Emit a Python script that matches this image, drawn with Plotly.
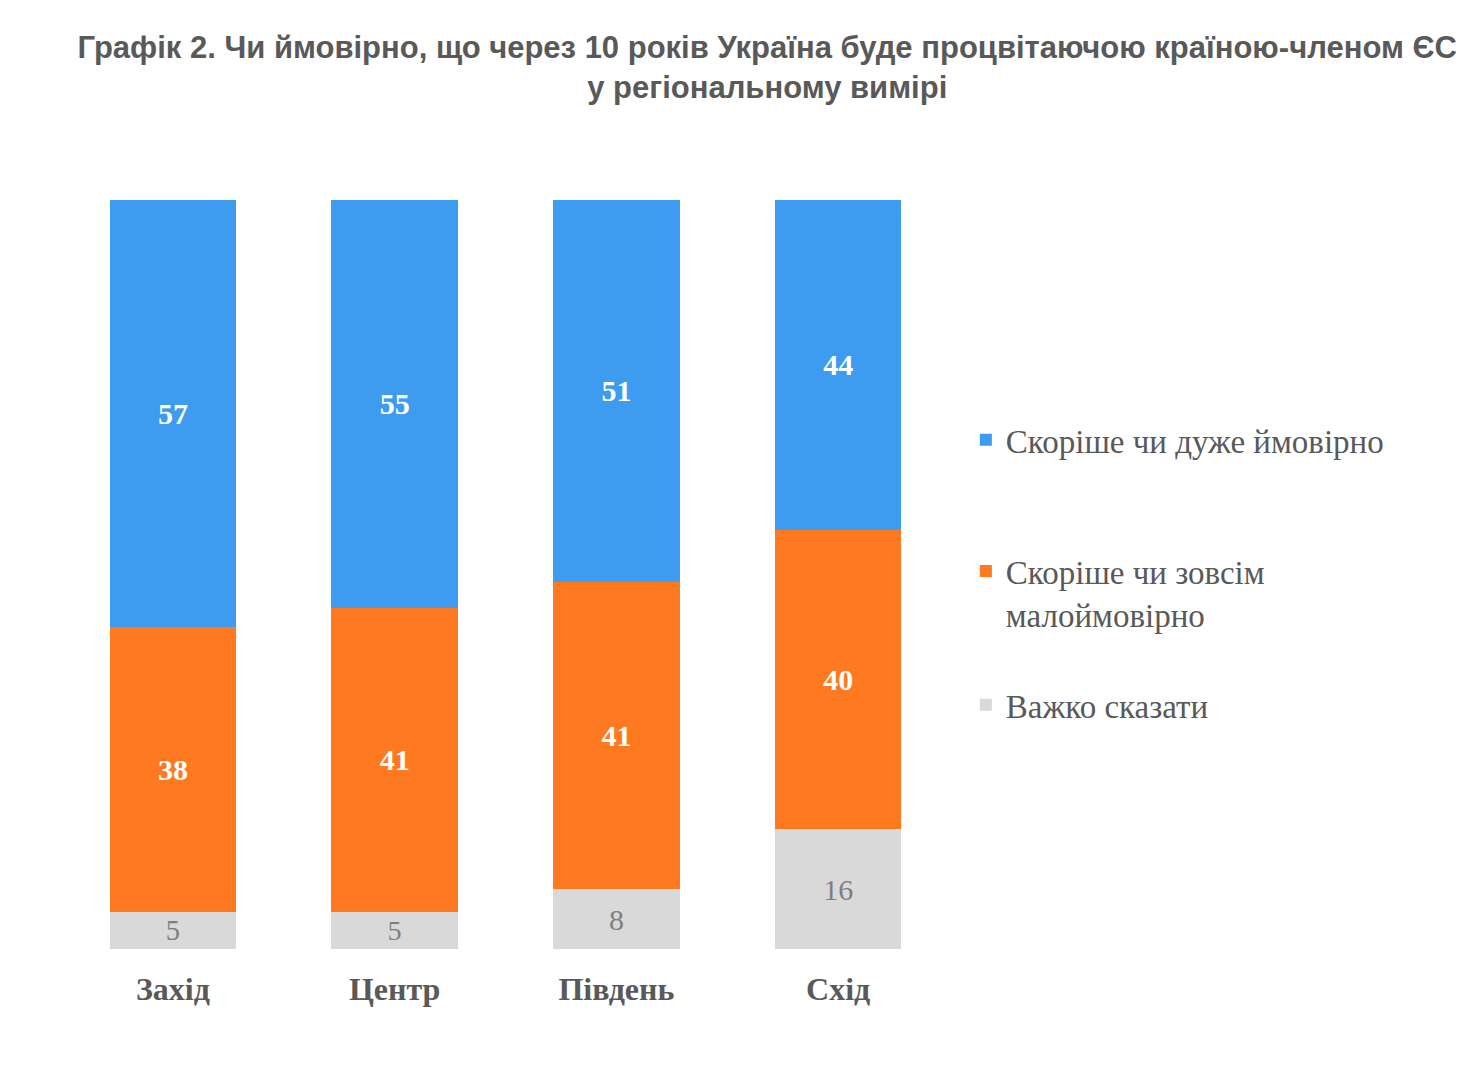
import plotly.graph_objects as go

regions = ['Захід', 'Центр', 'Південь', 'Схід']
likely = [57, 55, 51, 44]
unlikely = [38, 41, 41, 40]
hard_to_say = [5, 5, 8, 16]

series_names = ['Скоріше чи дуже ймовірно',
                'Скоріше чи зовсім<br>малоймовірно',
                'Важко сказати']

serif = 'Liberation Serif, Times New Roman, serif'
grey_text = '#595959'

fig = go.Figure()

# bottom to top: grey, orange, blue; each in its own legend box
fig.add_trace(go.Bar(
    x=regions, y=hard_to_say, name=series_names[2],
    marker_color='#d9d9d9', text=hard_to_say, texttemplate='%{text}',
    textposition='inside', insidetextanchor='middle', textangle=0,
    textfont=dict(family=serif, size=30, color='#7f7f7f'),
    legend='legend3',
))
fig.add_trace(go.Bar(
    x=regions, y=unlikely, name=series_names[1],
    marker_color='#ff7920', text=unlikely, texttemplate='<b>%{text}</b>',
    textposition='inside', insidetextanchor='middle', textangle=0,
    textfont=dict(family=serif, size=30, color='white'),
    legend='legend2',
))
fig.add_trace(go.Bar(
    x=regions, y=likely, name=series_names[0],
    marker_color='#3d9cf0', text=likely, texttemplate='<b>%{text}</b>',
    textposition='inside', insidetextanchor='middle', textangle=0,
    textfont=dict(family=serif, size=30, color='white'),
    legend='legend',
))

fig.update_traces(marker_line_width=0)

leg = dict(
    x=1.019, xanchor='left', yanchor='middle', valign='top',
    font=dict(family=serif, size=33, color=grey_text),
    bgcolor='rgba(0,0,0,0)',
)

fig.update_layout(
    width=1480, height=1066,
    barmode='stack', barnorm='percent', bargap=0.43,
    plot_bgcolor='white', paper_bgcolor='white',
    margin=dict(l=54, r=539, t=192, b=125),
    title=dict(
        text='<b>Графік 2. Чи ймовірно, що через 10 років Україна буде процвітаючою країною-членом ЄС<br>у регіональному вимірі</b>',
        x=0.513, xanchor='center', xref='container',
        y=1 - 50 / 1066, yanchor='top',
        font=dict(family='Liberation Sans, Arial, sans-serif', size=31, color=grey_text),
    ),
    legend=dict(leg, y=0.680),
    legend2=dict(leg, y=0.476),
    legend3=dict(leg, y=0.326),
    showlegend=True,
)

fig.update_xaxes(
    showline=False, showgrid=False, ticks='outside', ticklen=12, tickcolor='white',
    tickfont=dict(family=serif, size=32, color=grey_text),
    tickprefix='<b>', ticksuffix='</b>',
)
fig.update_yaxes(visible=False, range=[0, 100])

fig.write_html("out.html")
